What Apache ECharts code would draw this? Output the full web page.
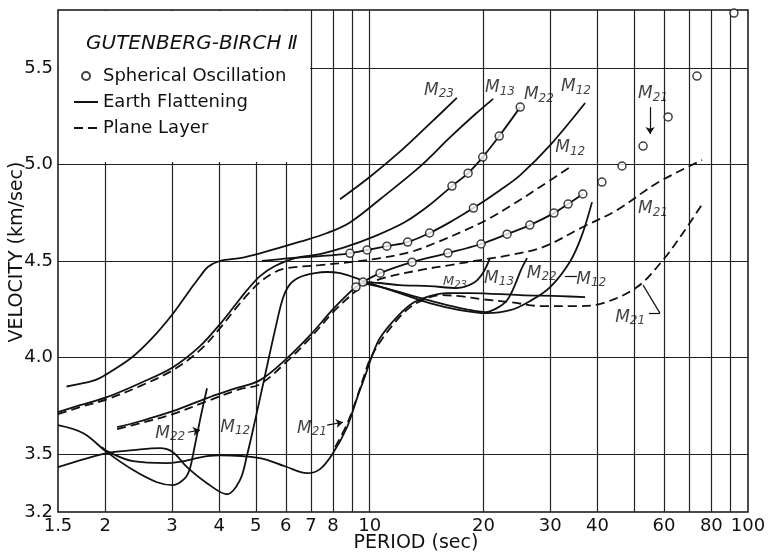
<!DOCTYPE html>
<html>
<head>
<meta charset="utf-8">
<title>Gutenberg-Birch II</title>
<script src="https://cdn.jsdelivr.net/npm/echarts@6.0.0/dist/echarts.min.js"></script>
<style>
  html, body { margin: 0; padding: 0; background: #fff; }
  #main { width: 770px; height: 553px; }
</style>
</head>
<body>
<div id="main"></div>
<script>
// [period (sec), velocity (km/sec)]
const m13Upper = [[1.58,3.85],[1.86,3.88],[2.0,3.91],[2.35,4.0],[2.66,4.10],[3.0,4.22],[3.35,4.35],[3.56,4.42],[3.74,4.47],[4.02,4.50],[4.54,4.515],[5.13,4.54],[6.55,4.60],[7.72,4.645],[8.87,4.70],[10.65,4.82],[13.6,4.99],[16.3,5.14],[19.0,5.26],[21.2,5.34]];
const m23Upper = [[8.35,4.82],[10.0,4.935],[12.0,5.065],[14.4,5.21],[17.0,5.345]];
const m12Upper = [[5.19,4.50],[6.16,4.515],[7.39,4.525],[8.87,4.54],[9.84,4.557],[11.1,4.577],[12.6,4.598],[14.4,4.645],[16.5,4.707],[18.8,4.774],[22.1,4.867],[25.0,4.945],[30.0,5.10],[37.1,5.318]];
const m22Upper = [[1.5,3.717],[1.715,3.753],[2.02,3.795],[2.47,3.867],[3.02,3.95],[3.56,4.059],[4.02,4.173],[4.41,4.272],[4.74,4.349],[5.13,4.422],[5.62,4.474],[6.35,4.515],[7.39,4.536],[8.61,4.572],[10.33,4.629],[12.4,4.702],[14.4,4.79],[16.5,4.888],[18.2,4.955],[19.9,5.038],[22.0,5.147],[25.0,5.297]];
const m12UpperDash = [[1.5,3.707],[1.715,3.743],[2.02,3.784],[2.47,3.852],[3.02,3.935],[3.56,4.038],[4.02,4.152],[4.41,4.251],[4.74,4.323],[5.13,4.391],[5.62,4.443],[6.05,4.463],[7.39,4.479],[8.87,4.494],[10.65,4.515],[12.8,4.546],[15.1,4.598],[17.9,4.66],[20.8,4.722],[23.5,4.784],[28.2,4.883],[33.9,4.987]];
const m21Upper = [[2.15,3.639],[2.47,3.67],[3.02,3.722],[3.715,3.79],[4.35,3.836],[5.13,3.883],[6.05,3.997],[6.96,4.116],[8.0,4.251],[8.87,4.339],[9.2,4.365],[9.6,4.391],[10.65,4.437],[12.94,4.494],[16.1,4.541],[19.7,4.588],[23.07,4.639],[26.5,4.686],[30.7,4.748],[33.45,4.795],[36.6,4.847]];
const m21UpperDash = [[2.15,3.629],[2.47,3.66],[3.02,3.707],[3.715,3.774],[4.54,3.836],[5.13,3.862],[6.05,3.981],[6.96,4.101],[8.0,4.235],[8.87,4.318],[9.6,4.37],[10.85,4.411],[13.6,4.453],[16.3,4.479],[19.6,4.505],[23.5,4.531],[28.7,4.572],[36.6,4.676],[45.1,4.764],[57.5,4.904],[75.6,5.023]];
const m22Lower = [[1.5,3.65],[1.75,3.608],[2.02,3.51],[2.37,3.417],[2.74,3.354],[3.02,3.339],[3.25,3.375],[3.35,3.427],[3.41,3.494],[3.56,3.676],[3.715,3.841]];
const m12Lower = [[1.5,3.432],[2.02,3.505],[2.37,3.52],[2.79,3.531],[3.02,3.51],[3.29,3.432],[3.715,3.349],[4.2,3.292],[4.54,3.365],[4.74,3.494],[4.98,3.676],[5.29,3.909],[5.62,4.142],[5.9,4.308],[6.16,4.38],[6.55,4.417],[7.17,4.437],[7.72,4.443],[8.35,4.437],[9.04,4.417],[10.0,4.386],[12.0,4.334],[14.4,4.282],[17.3,4.246],[20.4,4.23],[23.5,4.245],[26.5,4.292],[30.0,4.365],[33.9,4.499],[36.4,4.634],[38.7,4.805]];
const m21Lower = [[1.96,3.536],[2.02,3.515],[2.37,3.463],[2.91,3.453],[3.715,3.489],[4.02,3.494],[5.13,3.479],[5.97,3.437],[6.83,3.401],[7.39,3.422],[8.0,3.505],[8.71,3.639],[9.26,3.79],[9.72,3.904],[10.14,4.007],[10.65,4.101],[11.8,4.209],[13.0,4.282],[14.4,4.318],[16.0,4.334],[18.4,4.334],[25.0,4.323],[31.85,4.318],[37.1,4.313]];
const m21LowerDash = [[8.1,3.536],[8.71,3.655],[9.2,3.779],[9.6,3.888],[10.0,3.987],[10.65,4.08],[11.67,4.183],[12.8,4.261],[14.0,4.303],[15.3,4.323],[17.3,4.318],[19.6,4.303],[23.5,4.287],[28.7,4.266],[35.3,4.266],[41.4,4.282],[50.9,4.365],[59.6,4.505],[67.3,4.645],[76.0,4.80]];
const m23Mid = [[9.6,4.391],[10.65,4.386],[12.0,4.375],[14.4,4.37],[17.0,4.36],[18.8,4.386],[19.9,4.437],[20.8,4.515]];
const m13Mid = [[9.6,4.386],[11.0,4.36],[12.8,4.323],[15.3,4.282],[17.9,4.251],[20.2,4.235],[21.7,4.256],[23.07,4.297],[24.2,4.375],[25.1,4.453],[26.06,4.515]];

// spherical oscillation points
const m12Circles = [[8.87,4.54],[9.84,4.557],[11.1,4.577],[12.6,4.598],[14.4,4.645],[18.8,4.774]];
const m22Circles = [[16.5,4.888],[18.2,4.955],[19.9,5.038],[22.0,5.147],[25.0,5.297]];
const m21Circles = [[9.2,4.365],[9.6,4.391],[10.65,4.437],[12.94,4.494],[16.1,4.541],[19.7,4.588],[23.07,4.639],[26.5,4.686],[30.7,4.748],[33.45,4.795],[36.6,4.847],[41.1,4.909],[46.45,4.992],[52.8,5.095],[61.5,5.246],[73.3,5.458],[91.8,5.784]];

// mode labels [period, velocity, subscript]
const modeTags = [[15.25,5.385,'23'],[22.1,5.396,'13'],[28.0,5.36,'22'],[35.1,5.401,'12'],[33.9,5.085,'12'],[56.1,5.365,'21'],[56.1,4.769,'21'],[48.8,4.209,'21'],[21.98,4.411,'13'],[28.5,4.437,'22'],[38.5,4.406,'12'],[2.97,3.608,'22'],[4.41,3.639,'12'],[7.04,3.634,'21']];
const smallTags = [[16.8,4.391,'23']];
// leader lines [from, to, end symbol]
const leaders = [
  [[55.1,5.297],[55.1,5.158],'arrow'],
  [[52.8,4.375],[58.5,4.23],'none'],
  [[58.5,4.23],[54.7,4.23],'none'],
  [[32.8,4.422],[35.3,4.422],'none'],
  [[3.31,3.613],[3.56,3.624],'arrow'],
  [[7.72,3.65],[8.5,3.665],'arrow']
];

// axes
const xLabels = [1.5,2,3,4,5,6,7,8,10,20,30,40,60,80,100];
const xGrid = [2,3,4,5,6,7,8,9,10,20,30,40,50,60,70,80,90];
const yLabels = [3.2,3.5,4.0,4.5,5.0,5.5];
const yGrid = [3.5,4.0,4.5,5.0,5.5];

const FONT = "DejaVu Sans";
const INK = "#111";
const lg = v => Math.log10(v);
const toAxis = pts => pts.map(p => [lg(p[0]), p[1]]);

function curve(name, pts, dashed) {
  return {
    name: name,
    type: "line",
    data: toAxis(pts),
    symbol: "none",
    smooth: 0.35,
    silent: true,
    z: 2,
    itemStyle: { color: INK },
    lineStyle: { color: INK, width: 1.8, type: dashed ? [9, 5] : "solid" },
  };
}

const subRich = (big, small) => ({
  m: { fontFamily: FONT, fontStyle: "italic", fontSize: big, color: INK },
  s: { fontFamily: FONT, fontStyle: "italic", fontSize: small, color: INK, padding: [Math.round(small * 0.6), 0, 0, 0] },
});

const chart = echarts.init(document.getElementById("main"));
chart.setOption({
  animation: false,
  backgroundColor: "#fff",
  color: [INK],
  grid: {
    left: 58, right: 22, top: 10, bottom: 41,
    show: true, borderColor: INK, borderWidth: 1.5,
    outerBoundsMode: "none",
  },
  title: {
    text: "GUTENBERG-BIRCH Ⅱ",
    left: 81, top: 29,
    textStyle: { fontFamily: FONT, fontStyle: "italic", fontWeight: "normal", fontSize: 20, color: INK },
  },
  legend: {
    data: [
      { name: "Spherical Oscillation" },
      { name: "Earth Flattening", itemStyle: { opacity: 0 } },
      { name: "Plane Layer", itemStyle: { opacity: 0 } },
    ],
    orient: "vertical",
    left: 68, top: 62,
    itemWidth: 24, itemHeight: 8, itemGap: 8,
    selectedMode: false,
    textStyle: { fontFamily: FONT, fontSize: 18, color: INK },
  },
  graphic: [
    { type: "rect", shape: { x: 59, y: 11, width: 251, height: 151 }, style: { fill: "#fff" }, z: 3, silent: true },
  ],
  xAxis: {
    type: "value",
    min: lg(1.5), max: 2,
    name: "PERIOD (sec)",
    nameLocation: "middle", nameGap: 22,
    nameMoveOverlap: false,
    nameTextStyle: { fontFamily: FONT, fontSize: 19, color: INK, padding: [0, 0, 0, 26] },
    axisLine: { show: false },
    splitLine: { show: false },
    axisTick: { show: true, inside: true, length: 502, customValues: xGrid.map(lg), lineStyle: { color: "#222", width: 1.2 } },
    axisLabel: {
      customValues: xLabels.map(lg),
      margin: 5,
      fontFamily: FONT, fontSize: 18, color: INK,
      formatter: v => String(Math.round(Math.pow(10, v) * 10) / 10),
    },
  },
  yAxis: {
    type: "value",
    min: 3.2, max: 5.8,
    name: "VELOCITY (km/sec)",
    nameLocation: "middle", nameGap: 31,
    nameMoveOverlap: false,
    nameTextStyle: { fontFamily: FONT, fontSize: 19, color: INK, padding: [0, 0, 0, 18] },
    axisLine: { show: false },
    splitLine: { show: false },
    axisTick: { show: true, inside: true, length: 690, customValues: yGrid, lineStyle: { color: "#222", width: 1.2 } },
    axisLabel: {
      customValues: yLabels,
      margin: 5,
      fontFamily: FONT, fontSize: 18, color: INK,
      formatter: v => v.toFixed(1),
    },
  },
  series: [
    {
      name: "Spherical Oscillation",
      type: "scatter",
      data: toAxis(m12Circles.concat(m22Circles, m21Circles)),
      symbol: "circle", symbolSize: 8,
      itemStyle: { color: "#fff", borderColor: INK, borderWidth: 1.5 },
      z: 5, silent: true,
    },
    curve("Earth Flattening", m13Upper),
    curve("Earth Flattening", m23Upper),
    curve("Earth Flattening", m12Upper),
    curve("Earth Flattening", m22Upper),
    curve("Earth Flattening", m21Upper),
    curve("Earth Flattening", m22Lower),
    curve("Earth Flattening", m12Lower),
    curve("Earth Flattening", m21Lower),
    curve("Earth Flattening", m23Mid),
    curve("Earth Flattening", m13Mid),
    curve("Plane Layer", m12UpperDash, true),
    curve("Plane Layer", m21UpperDash, true),
    curve("Plane Layer", m21LowerDash, true),
    {
      name: "modes",
      type: "scatter",
      data: modeTags.map(t => ({ value: [lg(t[0]), t[1]], sub: t[2] })),
      symbolSize: 1,
      itemStyle: { color: "rgba(0,0,0,0)" },
      silent: true, z: 6,
      label: {
        show: true, position: "inside",
        formatter: p => "{m|M}{s|" + p.data.sub + "}",
        rich: subRich(17, 12),
      },
      markLine: {
        silent: true,
        symbol: ["none", "none"],
        label: { show: false },
        lineStyle: { color: INK, width: 1.2, type: "solid" },
        data: leaders.map(l => [
          { coord: [lg(l[0][0]), l[0][1]] },
          { coord: [lg(l[1][0]), l[1][1]], symbol: l[2], symbolSize: l[2] === "arrow" ? 7 : 0 },
        ]),
      },
    },
    {
      name: "modesSmall",
      type: "scatter",
      data: smallTags.map(t => ({ value: [lg(t[0]), t[1]], sub: t[2] })),
      symbolSize: 1,
      itemStyle: { color: "rgba(0,0,0,0)" },
      silent: true, z: 6,
      label: {
        show: true, position: "inside",
        formatter: p => "{m|M}{s|" + p.data.sub + "}",
        rich: subRich(13, 10),
      },
    },
  ],
});
</script>
</body>
</html>
